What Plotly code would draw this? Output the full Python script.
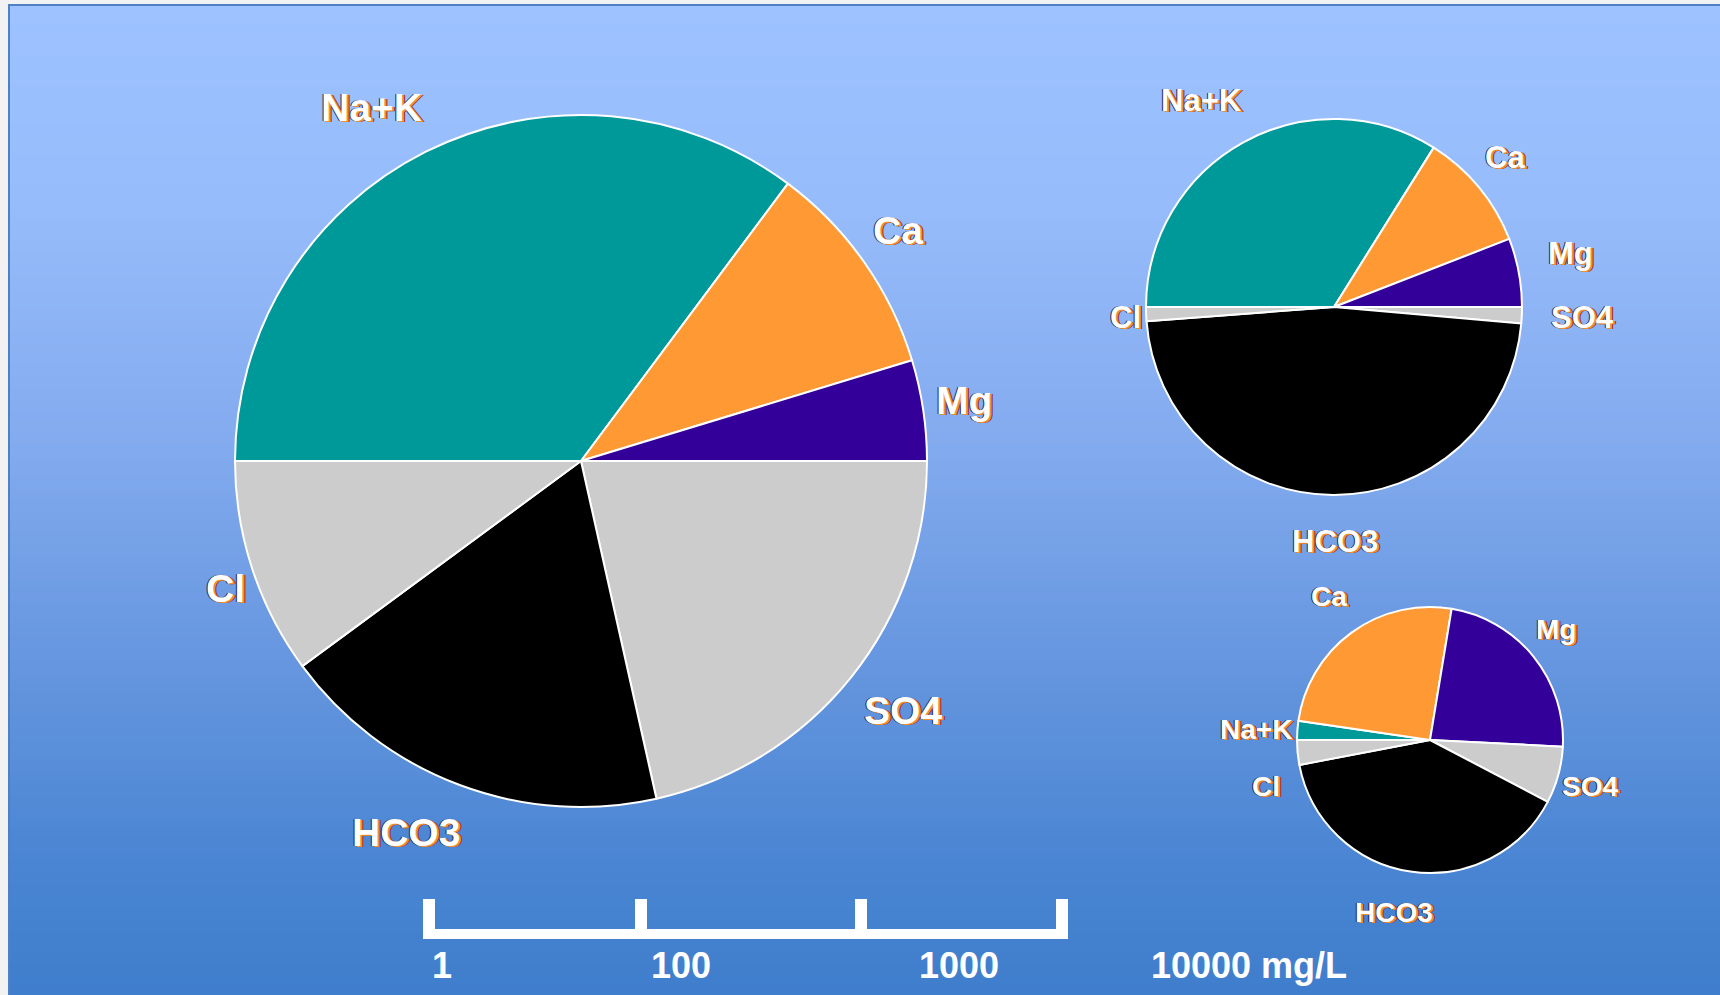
import plotly.graph_objects as go

W, H = 1720, 995

# ions, listed clockwise starting from 9 o'clock (cations on top, anions below)
ions = ["Na+K", "Ca", "Mg", "SO4", "HCO3", "Cl"]
ion_colors = ["#009999", "#FF9933", "#330099", "#CCCCCC", "#000000", "#CCCCCC"]

# ionic shares (% of total meq/L) for each water sample
sample_a = [35.2, 10.1, 4.7, 21.5, 18.4, 10.1]
sample_b = [33.9, 10.2, 5.9, 1.4, 47.4, 1.2]
sample_c = [2.3, 25.3, 23.2, 6.9, 39.3, 3.0]

# concentration scale (mg/L)
scale_labels = ["1", "100", "1000", "10000 mg/L"]

FONT = "Liberation Sans, Arial, Helvetica, sans-serif"
LABEL_SHADOW = "2px 1px 0px #EE8F36, 3px 1px 0px #6E2C0C, -1px 0px 0px #1C2463"

# pie placement in pixels: centre x, centre y, radius, label size, label anchors
pies = [
    dict(values=sample_a, cx=581, cy=461, r=346, size=39,
         labels={"Na+K": (371, 107), "Ca": (898, 230), "Mg": (964, 400),
                 "SO4": (903, 710), "HCO3": (406, 832), "Cl": (225, 588)}),
    dict(values=sample_b, cx=1334, cy=307, r=188, size=31,
         labels={"Na+K": (1201, 100), "Ca": (1505, 157), "Mg": (1570, 253),
                 "SO4": (1582, 317), "HCO3": (1335, 541), "Cl": (1125, 317)}),
    dict(values=sample_c, cx=1430, cy=740, r=133, size=28,
         labels={"Na+K": (1256, 729), "Ca": (1329, 596), "Mg": (1556, 629),
                 "SO4": (1590, 786), "HCO3": (1394, 912), "Cl": (1266, 786)}),
]

fig = go.Figure()

# vertical blue gradient backdrop
n_bands = 160
edges = [5 + (H - 5) * i / n_bands for i in range(n_bands + 1)]
z = [[(i + 0.5) / n_bands] for i in range(n_bands)]
fig.add_trace(go.Heatmap(
    x=[9, W], y=edges, z=z, zmin=0, zmax=1, showscale=False, hoverinfo="skip",
    colorscale=[[0.0, "#9DC2FF"], [0.2, "#97BCFB"], [0.45, "#82AAEE"],
                [0.7, "#6193DD"], [0.88, "#4884D2"], [1.0, "#3F7ECC"]],
))

for p in pies:
    cx, cy, r = p["cx"], p["cy"], p["r"]
    fig.add_trace(go.Pie(
        values=p["values"], labels=ions, sort=False,
        direction="clockwise", rotation=270,
        marker=dict(colors=ion_colors, line=dict(color="white", width=2)),
        textinfo="none", hoverinfo="label+percent", showlegend=False,
        domain=dict(x=[(cx - r) / W, (cx + r) / W],
                    y=[1 - (cy + r) / H, 1 - (cy - r) / H]),
    ))

annotations = []
for p in pies:
    for ion in ions:
        lx, ly = p["labels"][ion]
        annotations.append(dict(
            x=lx, y=ly, xref="x", yref="y", text="<b>%s</b>" % ion,
            showarrow=False, xanchor="center", yanchor="middle",
            font=dict(family=FONT, size=p["size"], color="#FFFFFF",
                      shadow=LABEL_SHADOW),
        ))

# scale bar
tick_x = [429, 641, 861, 1062]
label_x = [442, 681, 959, 1249]
shapes = [
    dict(type="rect", x0=9, y0=5, x1=W + 2, y1=H + 2, xref="x", yref="y",
         line=dict(color="#4F80C6", width=2), fillcolor="rgba(0,0,0,0)", layer="above"),
    dict(type="rect", x0=423, x1=1067, y0=929, y1=939, xref="x", yref="y",
         fillcolor="white", line=dict(width=0), layer="above"),
]
for tx in tick_x:
    shapes.append(dict(type="rect", x0=tx - 6, x1=tx + 6, y0=899, y1=939,
                       xref="x", yref="y", fillcolor="white",
                       line=dict(width=0), layer="above"))
for lab, lx in zip(scale_labels, label_x):
    annotations.append(dict(
        x=lx, y=965, xref="x", yref="y", text="<b>%s</b>" % lab,
        showarrow=False, xanchor="center", yanchor="middle",
        font=dict(family=FONT, size=36, color="white"),
    ))

fig.update_layout(
    width=W, height=H, autosize=False,
    margin=dict(l=0, r=0, t=0, b=0, pad=0),
    paper_bgcolor="#F2F2F2", plot_bgcolor="#F2F2F2",
    xaxis=dict(range=[0, W], visible=False, fixedrange=True),
    yaxis=dict(range=[H, 0], visible=False, fixedrange=True),
    annotations=annotations, shapes=shapes,
)

fig.write_html("out.html", include_plotlyjs=True, config={"displayModeBar": False})
